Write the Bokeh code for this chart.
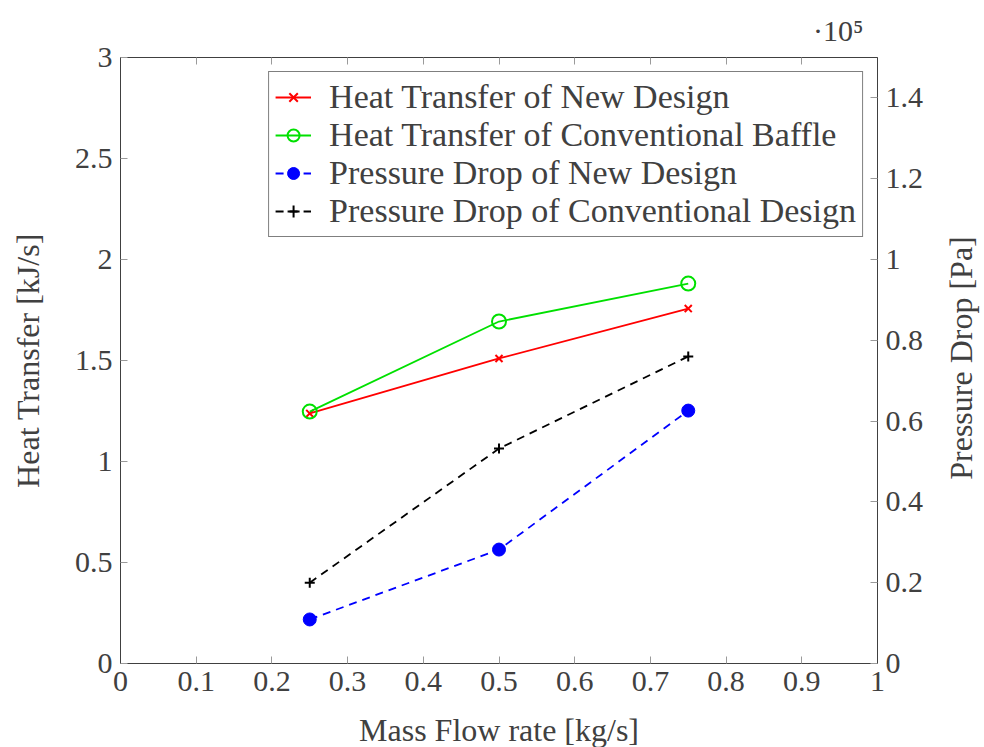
from bokeh.plotting import figure
from bokeh.layouts import row
from bokeh.models import (Range1d, LinearAxis, FixedTicker, CustomJSTickFormatter,
                          Legend, LegendItem, Title)
from bokeh.embed import file_html
from bokeh.resources import INLINE

# ---- data ----
mass_flow = [0.25, 0.5, 0.75]
heat_new = [1.238, 1.51, 1.757]
heat_conv = [1.247, 1.693, 1.881]
# pressure drop in units of 1e5 Pa
dp_new = [0.109, 0.282, 0.626]
dp_conv = [0.20, 0.532, 0.76]

x_ticks = [0, 0.1, 0.2, 0.3, 0.4, 0.5, 0.6, 0.7, 0.8, 0.9, 1.0]
left_ticks = [0, 0.5, 1, 1.5, 2, 2.5, 3]
right_ticks = [0, 0.2, 0.4, 0.6, 0.8, 1.0, 1.2, 1.4]

labels = ["Heat Transfer of New Design",
          "Heat Transfer of Conventional Baffle",
          "Pressure Drop of New Design",
          "Pressure Drop of Conventional Design"]

FONT = "Liberation Serif"
TXT = "#404040"
AX = "#404040"
TICK = "#9a9a9a"

p = figure(width=940, height=745, output_backend="svg", toolbar_location=None,
           x_range=Range1d(0, 1), y_range=Range1d(0, 3),
           min_border_left=120, min_border_right=63, min_border_top=57,
           min_border_bottom=82, frame_width=757, frame_height=606)
p.extra_y_ranges = {"p": Range1d(0, 1.5)}
p.grid.visible = False
p.outline_line_color = AX
p.background_fill_color = "white"
p.border_fill_color = "white"

fmt = CustomJSTickFormatter(code="return String(Number(tick.toFixed(3)));")
blank = CustomJSTickFormatter(code="return '';")


def style_axis(ax, ticks, show_labels=True):
    ax.ticker = FixedTicker(ticks=ticks)
    ax.formatter = fmt if show_labels else blank
    ax.major_tick_in = 7
    ax.major_tick_out = 0
    ax.minor_tick_line_color = None
    ax.major_tick_line_color = TICK
    ax.axis_line_color = AX
    ax.major_label_text_font = FONT
    ax.major_label_text_font_size = "30px"
    ax.major_label_text_color = TXT
    ax.axis_label_text_font = FONT
    ax.axis_label_text_font_size = "32px"
    ax.axis_label_text_font_style = "normal"
    ax.axis_label_text_color = TXT
    ax.major_label_standoff = 8


style_axis(p.xaxis[0], x_ticks)
p.xaxis[0].axis_label = "Mass Flow rate [kg/s]"
p.xaxis[0].axis_label_standoff = 18
style_axis(p.yaxis[0], left_ticks)
p.yaxis[0].axis_label = "Heat Transfer [kJ/s]"
p.yaxis[0].axis_label_standoff = 26

right = LinearAxis(y_range_name="p")
style_axis(right, right_ticks)
p.add_layout(right, "right")

top = LinearAxis()
style_axis(top, x_ticks, show_labels=False)
top.major_label_standoff = 0
p.add_layout(top, "above")

r1 = p.line(mass_flow, heat_new, line_color="red", line_width=1.8)
m1 = p.scatter(mass_flow, heat_new, marker="x", size=10, line_color="red", line_width=2)
r2 = p.line(mass_flow, heat_conv, line_color="#00e000", line_width=1.8)
m2 = p.scatter(mass_flow, heat_conv, marker="circle", size=14, line_color="#00e000",
               fill_color=None, line_width=2)
r3 = p.line(mass_flow, dp_new, y_range_name="p", line_color="blue", line_width=1.8,
            line_dash="8 6")
m3 = p.scatter(mass_flow, dp_new, y_range_name="p", marker="circle", size=13,
               line_color="blue", fill_color="blue")
r4 = p.line(mass_flow, dp_conv, y_range_name="p", line_color="black", line_width=1.8,
            line_dash="8 6")
m4 = p.scatter(mass_flow, dp_conv, y_range_name="p", marker="cross", size=10,
               line_color="black", line_width=2)

legend = Legend(items=[LegendItem(label=labels[0], renderers=[r1, m1]),
                       LegendItem(label=labels[1], renderers=[r2, m2]),
                       LegendItem(label=labels[2], renderers=[r3, m3]),
                       LegendItem(label=labels[3], renderers=[r4, m4])],
                location="top_right")
legend.label_text_font = FONT
legend.label_text_font_size = "34px"
legend.label_text_color = TXT
legend.border_line_color = "black"
legend.border_line_width = 1
legend.background_fill_alpha = 1
legend.glyph_width = 36
legend.label_height = 30
legend.glyph_height = 30
legend.spacing = 0
legend.padding = 6
legend.margin = 14
legend.label_standoff = 18
p.add_layout(legend, "center")

p.title = Title(text="·10⁵", align="right", text_font=FONT, text_font_size="30px",
                text_color=TXT, text_font_style="normal", offset=14, standoff=22)

# narrow companion panel carrying the right-axis title (reads bottom-to-top)
p2 = figure(width=40, height=745, output_backend="svg", toolbar_location=None,
            x_axis_type=None, y_axis_type=None, title_location="left",
            min_border_left=0, min_border_right=0, min_border_top=57,
            min_border_bottom=82)
p2.outline_line_color = None
p2.border_fill_color = "white"
p2.background_fill_color = "white"
p2.title.text = "Pressure Drop [Pa]"
p2.title.align = "center"
p2.title.text_font = FONT
p2.title.text_font_size = "32px"
p2.title.text_font_style = "normal"
p2.title.text_color = TXT
p2.title.standoff = 0
p2.title.offset = 0

layout = row(p, p2, spacing=0)
open("out.html", "w").write(file_html(layout, INLINE))
